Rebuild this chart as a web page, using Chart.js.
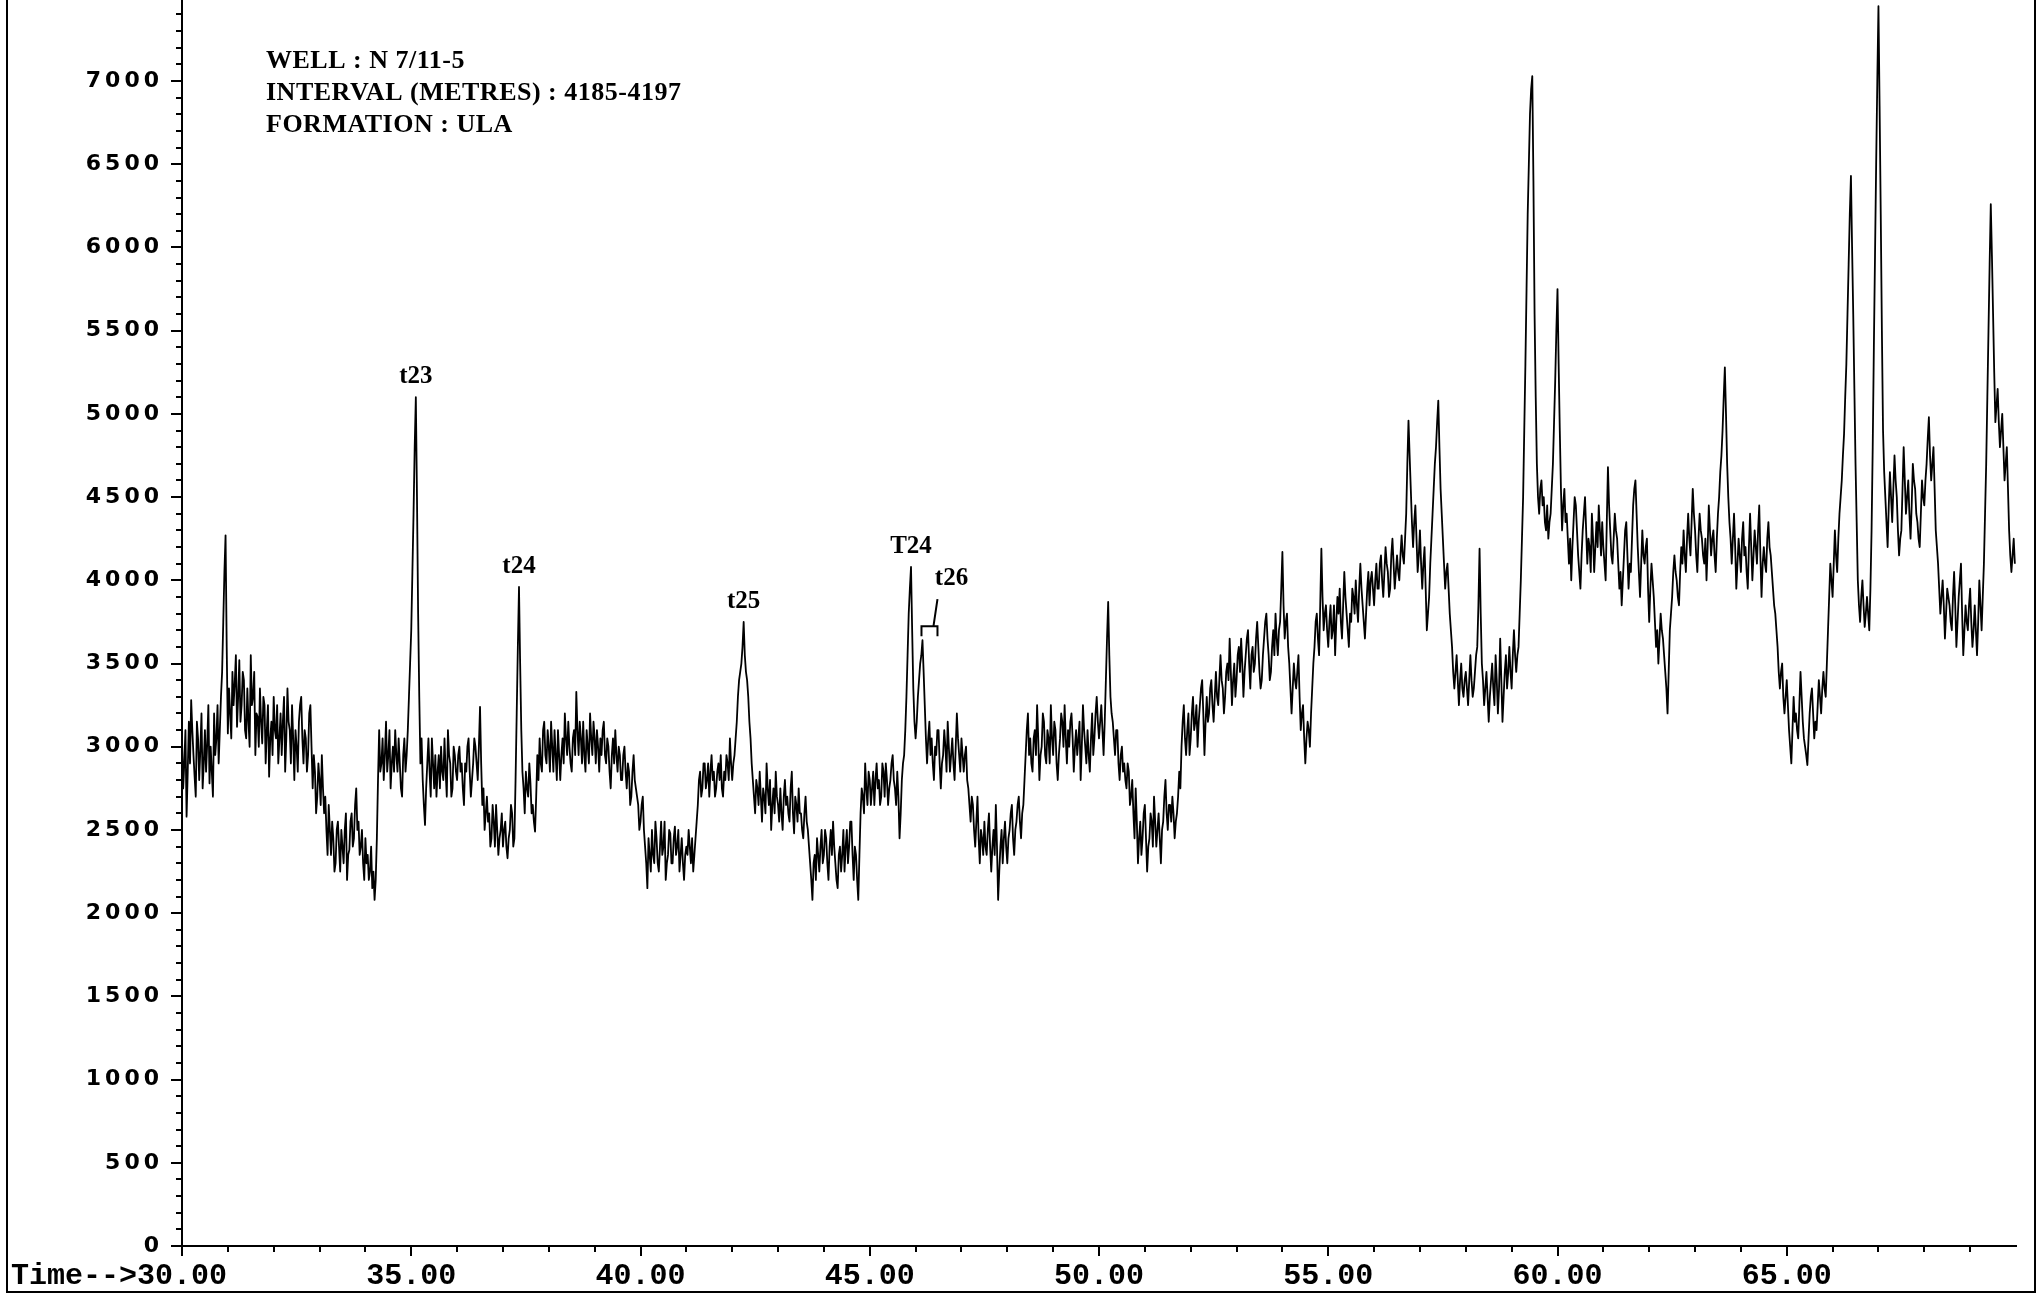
<!DOCTYPE html>
<html>
<head>
<meta charset="utf-8">
<title>N 7/11-5 ULA</title>
<script src="https://cdn.jsdelivr.net/npm/chart.js@4.4.1/dist/chart.umd.min.js"></script>
<style>
html, body { margin: 0; padding: 0; background: #fff; }
canvas { display: block; }
</style>
</head>
<body>
<canvas id="chrom" width="2038" height="1295"></canvas>
<script>
// Abundance readings, 40 scans per minute (0.025 min apart); two rows per minute.
const abundance30to35 = [
  3050, 2750, 2900, 3100, 2580, 2850, 3150, 2900, 3280, 3100, 2950, 2820, 2700, 3150, 3050, 2800, 2980, 3200, 2750, 2900,
  3100, 2850, 3020, 3250, 2780, 3000, 2850, 2700, 3200, 2950, 3050, 3250, 2900, 3100, 3300, 3450, 3750, 4050, 4270, 3600,
  3080, 3350, 3200, 3050, 3450, 3250, 3380, 3550, 3120, 3300, 3520, 3150, 3250, 3450, 3400, 3100, 3050, 3350, 3150, 3000,
  3550, 3250, 3300, 3450, 2950, 3200, 3180, 3000, 3350, 3150, 3020, 3300, 3250, 2900, 3100, 3250, 2820, 3050, 3150, 2950,
  3300, 3100, 3050, 3250, 2900, 3050, 3200, 2950, 3150, 3300, 2850, 3050, 3350, 3150, 3100, 2900, 3250, 3050, 2800, 3100,
  3000, 2850, 3150, 3250, 3300, 3050, 2900, 3100, 3050, 2850, 2950, 3200, 3250, 3000, 2750, 2950, 2850, 2600, 2700, 2900,
  2800, 2650, 2950, 2750, 2600, 2700, 2500, 2350, 2650, 2500, 2350, 2550, 2450, 2250, 2300, 2500, 2550, 2400, 2250, 2500,
  2400, 2300, 2500, 2600, 2200, 2350, 2380, 2550, 2600, 2400, 2450, 2650, 2750, 2500, 2550, 2350, 2400, 2500, 2300, 2200,
  2450, 2300, 2350, 2200, 2250, 2400, 2150, 2250, 2080, 2200, 2450, 2800, 3100, 2850, 2900, 3050, 2800, 2950, 3150, 2850,
  2950, 3100, 2750, 2900, 3000, 2850, 3100, 2950, 2850, 3050, 2900, 2750, 2700, 2950, 3050, 2850, 2950, 3100, 3300, 3500
];
const abundance35to40 = [
  3700, 4050, 4400, 4800, 5100, 4500, 3800, 3300, 2900, 3050, 2800, 2650, 2530, 2750, 2900, 3050, 2850, 2700, 3050, 2900,
  2750, 2950, 2700, 2850, 2950, 2750, 3000, 2850, 2800, 3050, 2850, 2700, 3100, 2950, 2900, 2700, 2750, 3000, 2950, 2850,
  2800, 2950, 3000, 2850, 2900, 2750, 2650, 2900, 2850, 3000, 3050, 2850, 2700, 2800, 2900, 3050, 3000, 2900, 2800, 3000,
  3240, 2900, 2650, 2750, 2500, 2600, 2700, 2550, 2600, 2400, 2450, 2650, 2550, 2400, 2650, 2500, 2350, 2450, 2500, 2600,
  2400, 2500, 2550, 2400, 2330, 2450, 2500, 2650, 2600, 2400, 2450, 2800, 3200, 3600, 3960, 3500, 3100, 2850, 2750, 2600,
  2850, 2750, 2700, 2900, 2780, 2600, 2650, 2550, 2490, 2700, 2950, 2800, 3050, 2900, 2850, 3100, 3150, 2950, 2900, 3100,
  3000, 2850, 3150, 3000, 2850, 3100, 2950, 2800, 3100, 2950, 2800, 2950, 3050, 2900, 3200, 3050, 2950, 3150, 3000, 2900,
  2850, 3050, 3100, 2950, 3330, 3100, 2950, 3150, 3050, 2900, 3150, 2950, 2850, 3100, 3000, 2900, 3200, 3050, 2950, 3150,
  3050, 2900, 3100, 3000, 2850, 3050, 2950, 3100, 3150, 2950, 2900, 3050, 3000, 2850, 2750, 2950, 3050, 2900, 3100, 2950,
  2850, 3000, 2950, 2800, 2800, 2950, 3000, 2850, 2750, 2900, 2850, 2650, 2700, 2850, 2950, 2800, 2750, 2700, 2650, 2500
];
const abundance40to45 = [
  2550, 2650, 2700, 2500, 2400, 2300, 2150, 2450, 2350, 2250, 2500, 2350, 2300, 2550, 2450, 2300, 2250, 2400, 2550, 2350,
  2400, 2550, 2200, 2300, 2350, 2500, 2480, 2300, 2300, 2450, 2520, 2350, 2400, 2500, 2250, 2350, 2450, 2300, 2200, 2350,
  2400, 2350, 2500, 2400, 2300, 2450, 2250, 2350, 2450, 2550, 2650, 2800, 2850, 2700, 2750, 2900, 2900, 2750, 2800, 2900,
  2700, 2850, 2950, 2800, 2850, 2700, 2750, 2850, 2900, 2800, 2950, 2750, 2700, 2850, 2800, 2950, 2900, 2800, 3050, 2900,
  2800, 2900, 2950, 3050, 3150, 3300, 3400, 3450, 3500, 3600, 3750, 3550, 3450, 3400, 3300, 3150, 3050, 2900, 2800, 2700,
  2600, 2800, 2750, 2650, 2850, 2700, 2550, 2750, 2700, 2600, 2900, 2750, 2650, 2800, 2500, 2650, 2750, 2600, 2850, 2700,
  2650, 2550, 2750, 2600, 2500, 2700, 2800, 2650, 2700, 2600, 2550, 2750, 2850, 2600, 2480, 2700, 2650, 2550, 2750, 2600,
  2600, 2500, 2450, 2600, 2700, 2550, 2500, 2400, 2300, 2200, 2080, 2300, 2350, 2200, 2450, 2350, 2250, 2400, 2500, 2300,
  2350, 2500, 2450, 2300, 2200, 2400, 2500, 2350, 2550, 2400, 2300, 2200, 2150, 2350, 2400, 2250, 2350, 2500, 2250, 2400,
  2500, 2300, 2400, 2550, 2550, 2350, 2200, 2400, 2350, 2200, 2080, 2350, 2600, 2750, 2700, 2600, 2900, 2750, 2650, 2850
];
const abundance45to50 = [
  2800, 2650, 2750, 2850, 2650, 2800, 2900, 2750, 2800, 2650, 2700, 2900, 2850, 2700, 2900, 2800, 2650, 2750, 2800, 2900,
  2950, 2800, 2750, 2650, 2850, 2700, 2450, 2600, 2800, 2900, 2950, 3100, 3300, 3550, 3800, 3950, 4080, 3700, 3350, 3150,
  3050, 3150, 3300, 3400, 3500, 3550, 3640, 3450, 3250, 3050, 2900, 3050, 3150, 2950, 3050, 2900, 2800, 3000, 2950, 3100,
  3100, 2900, 2750, 2900, 2950, 3100, 3000, 2850, 3150, 3000, 2850, 2950, 3050, 2900, 2800, 3000, 3200, 3050, 2950, 2850,
  3050, 2950, 2850, 2950, 3000, 2800, 2750, 2650, 2550, 2700, 2650, 2500, 2400, 2550, 2700, 2450, 2300, 2500, 2450, 2350,
  2550, 2400, 2350, 2500, 2600, 2400, 2250, 2400, 2500, 2350, 2650, 2400, 2080, 2250, 2400, 2500, 2300, 2450, 2550, 2400,
  2300, 2450, 2500, 2600, 2650, 2450, 2350, 2500, 2550, 2650, 2700, 2550, 2450, 2600, 2650, 2800, 2950, 3100, 3200, 2950,
  3050, 2900, 2850, 3050, 3100, 2950, 3250, 3050, 2800, 2950, 3000, 3200, 3150, 2950, 2900, 3100, 3050, 2900, 3250, 3050,
  2950, 3150, 3100, 2900, 2800, 2950, 3050, 3200, 3150, 3000, 3250, 3050, 2900, 3100, 3000, 3150, 3200, 3050, 2850, 3000,
  3100, 2950, 3050, 3150, 2800, 3000, 3250, 3100, 3000, 2900, 3100, 2950, 2850, 3050, 3200, 2950, 3050, 3200, 3300, 3150
];
const abundance50to55 = [
  3050, 3150, 3250, 3100, 2950, 3150, 3400, 3650, 3870, 3550, 3300, 3200, 3150, 3050, 2950, 3100, 3100, 2900, 2800, 2950,
  3000, 2850, 2900, 2800, 2750, 2900, 2850, 2650, 2700, 2800, 2600, 2450, 2750, 2550, 2300, 2450, 2550, 2350, 2450, 2600,
  2650, 2450, 2250, 2400, 2450, 2600, 2550, 2400, 2700, 2550, 2400, 2500, 2600, 2450, 2300, 2500, 2550, 2700, 2800, 2600,
  2500, 2650, 2650, 2550, 2700, 2600, 2450, 2550, 2600, 2700, 2850, 2750, 3000, 3150, 3250, 3050, 2950, 3100, 3200, 2950,
  3050, 3200, 3300, 3100, 3150, 3250, 3000, 3150, 3250, 3350, 3400, 3200, 2950, 3150, 3300, 3150, 3200, 3350, 3400, 3250,
  3150, 3300, 3450, 3300, 3250, 3400, 3550, 3400, 3350, 3200, 3300, 3450, 3500, 3400, 3650, 3450, 3250, 3400, 3500, 3300,
  3400, 3550, 3600, 3450, 3650, 3500, 3300, 3450, 3550, 3650, 3700, 3500, 3350, 3550, 3600, 3450, 3500, 3650, 3750, 3600,
  3450, 3350, 3400, 3550, 3650, 3750, 3800, 3650, 3550, 3400, 3450, 3600, 3700, 3550, 3800, 3650, 3550, 3700, 3750, 3950,
  4170, 3850, 3650, 3750, 3800, 3600, 3500, 3350, 3200, 3350, 3500, 3400, 3350, 3450, 3550, 3300, 3100, 3200, 3250, 3050,
  2900, 3050, 3150, 3100, 3000, 3200, 3350, 3500, 3600, 3750, 3800, 3650, 3550, 3850, 4190, 3900, 3700, 3800, 3850, 3700
];
const abundance55to60 = [
  3600, 3750, 3850, 3650, 3700, 3850, 3550, 3750, 3900, 3800, 3950, 3750, 3650, 3850, 4050, 3900, 3800, 3700, 3600, 3800,
  3750, 3950, 3900, 3800, 4000, 3850, 3750, 3950, 4100, 3950, 3850, 3750, 3650, 3800, 3950, 4050, 3850, 4000, 4050, 3950,
  3850, 4000, 4100, 3950, 3950, 4100, 4150, 4000, 3900, 4050, 4200, 4100, 4050, 3900, 3950, 4150, 4250, 4100, 3950, 4050,
  4150, 4050, 4000, 4150, 4270, 4150, 4100, 4250, 4400, 4700, 4960, 4750, 4550, 4350, 4200, 4350, 4450, 4250, 4050, 4150,
  4300, 4100, 3950, 4100, 4200, 3950, 3700, 3800, 3900, 4100, 4250, 4400, 4550, 4700, 4800, 4950, 5080, 4800, 4550, 4400,
  4250, 4100, 3950, 4050, 4100, 3950, 3800, 3700, 3600, 3450, 3350, 3450, 3550, 3400, 3250, 3400, 3500, 3350, 3300, 3400,
  3450, 3350, 3250, 3400, 3550, 3400, 3300, 3350, 3450, 3550, 3600, 3850, 4190, 3800, 3500, 3400, 3250, 3350, 3450, 3300,
  3150, 3300, 3400, 3500, 3350, 3250, 3550, 3400, 3200, 3350, 3650, 3400, 3150, 3300, 3450, 3550, 3350, 3450, 3600, 3450,
  3350, 3550, 3700, 3550, 3450, 3550, 3600, 3800, 4000, 4250, 4500, 4900, 5300, 5750, 6200, 6500, 6800, 6950, 7030, 6400,
  5600, 5100, 4700, 4500, 4400, 4550, 4600, 4450, 4500, 4350, 4300, 4450, 4250, 4350, 4400, 4550, 4700, 4950, 5200, 5500
];
const abundance60to65 = [
  5750, 5300, 4900, 4550, 4300, 4450, 4550, 4350, 4400, 4250, 4100, 4250, 4000, 4200, 4350, 4500, 4450, 4300, 4150, 4050,
  3950, 4150, 4300, 4400, 4500, 4300, 4100, 4250, 4200, 4050, 4400, 4250, 4050, 4200, 4350, 4200, 4450, 4300, 4150, 4350,
  4200, 4100, 4000, 4350, 4680, 4450, 4300, 4150, 4100, 4250, 4400, 4300, 4250, 4100, 3950, 4050, 3850, 4000, 4150, 4300,
  4350, 4150, 3950, 4100, 4050, 4250, 4450, 4550, 4600, 4400, 4200, 4050, 3900, 4100, 4300, 4150, 4100, 4200, 4250, 3950,
  3750, 3950, 4100, 4000, 3900, 3750, 3600, 3700, 3500, 3650, 3800, 3700, 3650, 3550, 3450, 3350, 3200, 3450, 3700, 3800,
  3900, 4050, 4150, 4050, 4000, 3900, 3850, 4050, 4200, 4100, 4300, 4150, 4050, 4250, 4400, 4250, 4150, 4350, 4550, 4400,
  4300, 4150, 4050, 4250, 4400, 4300, 4250, 4150, 4100, 4250, 4000, 4200, 4450, 4300, 4150, 4250, 4300, 4150, 4050, 4250,
  4400, 4500, 4650, 4750, 4900, 5100, 5280, 5000, 4700, 4500, 4350, 4250, 4100, 4250, 4400, 4200, 3950, 4100, 4250, 4150,
  4050, 4250, 4350, 4150, 4200, 4050, 3950, 4200, 4400, 4200, 4000, 4150, 4300, 4200, 4100, 4300, 4450, 4150, 3900, 4100,
  4200, 4100, 4050, 4250, 4350, 4200, 4150, 4050, 3950, 3850, 3800, 3700, 3600, 3450, 3350, 3450, 3500, 3300, 3200, 3300
];
const abundance65to70 = [
  3400, 3250, 3100, 3000, 2900, 3100, 3300, 3150, 3200, 3100, 3050, 3250, 3450, 3300, 3150, 3050, 3000, 2950, 2890, 3050,
  3200, 3300, 3350, 3200, 3050, 3150, 3100, 3250, 3400, 3300, 3200, 3350, 3450, 3350, 3300, 3500, 3700, 3900, 4100, 4000,
  3900, 4100, 4300, 4150, 4050, 4250, 4400, 4500, 4600, 4750, 4880, 5100, 5300, 5600, 5900, 6200, 6430, 6000, 5600, 5150,
  4700, 4350, 4000, 3850, 3750, 3900, 4000, 3850, 3720, 3800, 3900, 3800, 3700, 3950, 4300, 4800, 5400, 5950, 6500, 7000,
  7450, 6850, 6200, 5500, 4900, 4650, 4500, 4350, 4200, 4450, 4650, 4500, 4350, 4550, 4750, 4600, 4500, 4300, 4150, 4250,
  4300, 4550, 4800, 4600, 4400, 4500, 4600, 4400, 4250, 4450, 4700, 4600, 4550, 4400, 4350, 4250, 4200, 4400, 4600, 4500,
  4450, 4600, 4700, 4850, 4980, 4750, 4600, 4700, 4800, 4550, 4300, 4200, 4100, 3950, 3800, 3900, 4000, 3850, 3650, 3800,
  3950, 3900, 3850, 3750, 3700, 3900, 4050, 3850, 3600, 3750, 3900, 4000, 4100, 3800, 3550, 3700, 3850, 3750, 3700, 3850,
  3950, 3750, 3600, 3700, 3850, 3700, 3550, 3750, 4000, 3850, 3700, 3900, 4100, 4400, 4700, 5100, 5500, 5900, 6260, 5950,
  5600, 5250, 4950, 5050, 5150, 4950, 4800, 4900, 5000, 4800, 4600, 4700, 4800, 4550, 4300, 4150, 4050, 4150, 4250, 4100
];
const startTime = 30.0;
const scanStep = 0.025;

// Axis tick values
const timeTicks = [30, 35, 40, 45, 50, 55, 60, 65];
const abundanceTicks = [0, 500, 1000, 1500, 2000, 2500, 3000, 3500, 4000, 4500, 5000, 5500, 6000, 6500, 7000];

// Sample header and peak identifications
const wellInfo = ['WELL : N 7/11-5', 'INTERVAL (METRES) : 4185-4197', 'FORMATION : ULA'];
const peakNames = ['t23', 't24', 't25', 'T24', 't26'];
const peakTimes = [35.10, 37.35, 42.25, 45.90, 46.15];

const abundance = [].concat(
  abundance30to35, abundance35to40, abundance40to45, abundance45to50,
  abundance50to55, abundance55to60, abundance60to65, abundance65to70
);
const trace = abundance.map((v, i) => ({ x: +(startTime + i * scanStep).toFixed(3), y: v }));

function abundanceAt(t) {
  return abundance[Math.round((t - startTime) / scanStep)];
}

const X_FONT = { family: '"Liberation Mono", "Courier New", monospace', size: 30, weight: 'bold', lineHeight: 1.2 };
const Y_FONT = { family: '"DejaVu Sans", sans-serif', size: 22, weight: 'bold' };
const X_PAD = 12;

const chromDecor = {
  id: 'chromDecor',
  afterLayout(chart) {
    // widen the spacing of the abundance labels
    const ys = chart.scales.y;
    if (ys && !ys.__spaced) {
      const base = ys.drawLabels;
      ys.drawLabels = function (area) {
        const c = this.ctx;
        const prev = c.letterSpacing;
        c.letterSpacing = '4px';
        base.call(this, area);
        c.letterSpacing = prev || '0px';
      };
      ys.__spaced = true;
    }
  },
  afterDraw(chart) {
    const { ctx, chartArea: a, scales: { x: xs, y: ys } } = chart;
    ctx.save();
    ctx.strokeStyle = '#000';
    ctx.fillStyle = '#000';
    ctx.lineWidth = 2;

    // tick marks: every minute on time, every 100 on abundance
    ctx.beginPath();
    for (let t = 30; t <= 69; t++) {
      const px = Math.round(xs.getPixelForValue(t));
      const len = t % 5 === 0 ? 10 : 6;
      ctx.moveTo(px, a.bottom);
      ctx.lineTo(px, a.bottom + len);
    }
    for (let v = 0; v <= 7400; v += 100) {
      const py = Math.round(ys.getPixelForValue(v));
      const len = v % 500 === 0 ? 11 : 6;
      ctx.moveTo(a.left - len, py);
      ctx.lineTo(a.left, py);
    }
    ctx.stroke();

    // page frame
    ctx.beginPath();
    ctx.moveTo(7, 0);
    ctx.lineTo(7, chart.height - 3);
    ctx.lineTo(chart.width - 3, chart.height - 3);
    ctx.lineTo(chart.width - 3, 0);
    ctx.stroke();

    // "Time-->" lead-in before the first time label
    ctx.font = `bold ${X_FONT.size}px ${X_FONT.family}`;
    ctx.textBaseline = 'middle';
    ctx.textAlign = 'right';
    const firstW = ctx.measureText(timeTicks[0].toFixed(2)).width;
    const labelMid = a.bottom + X_PAD + X_FONT.size * X_FONT.lineHeight / 2;
    ctx.fillText('Time-->', xs.getPixelForValue(timeTicks[0]) - firstW / 2, labelMid);

    // sample header
    ctx.font = 'bold 26px "Liberation Serif", "Times New Roman", serif';
    ctx.letterSpacing = '0.5px';
    ctx.textAlign = 'left';
    ctx.textBaseline = 'alphabetic';
    wellInfo.forEach((line, i) => ctx.fillText(line, 266, 68 + i * 32));
    ctx.letterSpacing = '0px';

    // peak identifications
    ctx.font = 'bold 25px "Liberation Serif", "Times New Roman", serif';
    ctx.textAlign = 'center';
    peakNames.forEach((name, i) => {
      const px = xs.getPixelForValue(peakTimes[i]);
      const py = ys.getPixelForValue(abundanceAt(peakTimes[i]));
      if (name === 't26') {
        ctx.lineWidth = 2;
        ctx.beginPath();
        ctx.moveTo(px + 15, py - 41);
        ctx.lineTo(px + 11, py - 14);
        ctx.moveTo(px - 1, py - 4);
        ctx.lineTo(px - 1, py - 14);
        ctx.lineTo(px + 15, py - 14);
        ctx.lineTo(px + 15, py - 4);
        ctx.stroke();
        ctx.fillText(name, px + 29, py - 55);
      } else {
        ctx.fillText(name, px, py - 14);
      }
    });
    ctx.restore();
  }
};

new Chart(document.getElementById('chrom'), {
  type: 'line',
  data: {
    datasets: [{
      data: trace,
      borderColor: '#000',
      borderWidth: 1.8,
      borderJoinStyle: 'round',
      pointRadius: 0,
      tension: 0,
      fill: false
    }]
  },
  options: {
    responsive: false,
    animation: false,
    devicePixelRatio: 1,
    layout: { padding: { left: 0, right: 22, top: 0, bottom: 0 } },
    plugins: { legend: { display: false }, tooltip: { enabled: false } },
    scales: {
      x: {
        type: 'linear',
        min: 30,
        max: 70,
        grid: { display: false, drawTicks: false },
        border: { display: true, color: '#000', width: 2 },
        ticks: {
          color: '#000',
          font: X_FONT,
          padding: X_PAD,
          maxRotation: 0,
          autoSkip: false,
          callback: (v) => Number(v).toFixed(2)
        },
        afterBuildTicks: (s) => { s.ticks = timeTicks.map((v) => ({ value: v })); },
        afterFit: (s) => { s.height = 49; s.paddingLeft = 0; s.paddingRight = 0; }
      },
      y: {
        min: 0,
        max: 7487,
        grid: { display: false, drawTicks: false },
        border: { display: true, color: '#000', width: 2 },
        ticks: {
          color: '#000',
          font: Y_FONT,
          padding: 19,
          autoSkip: false,
          callback: (v) => String(v)
        },
        afterBuildTicks: (s) => { s.ticks = abundanceTicks.map((v) => ({ value: v })); },
        afterFit: (s) => { s.width = 182; s.paddingTop = 0; s.paddingBottom = 0; }
      }
    }
  },
  plugins: [chromDecor]
});
</script>
</body>
</html>
